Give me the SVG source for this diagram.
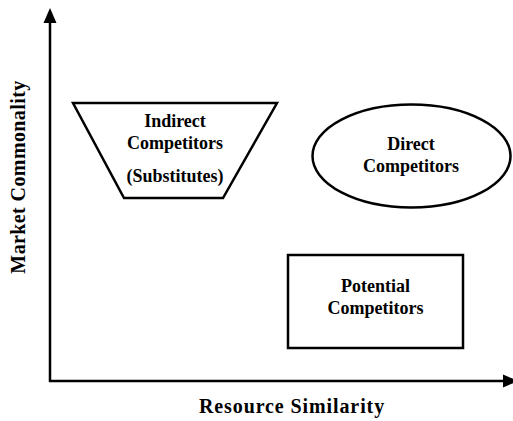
<svg xmlns="http://www.w3.org/2000/svg" width="513" height="421" viewBox="0 0 513 421">
  <style>
    .shape { fill: #ffffff; stroke: #000000; stroke-width: 2.5; }
    .axis { fill: none; stroke: #000000; stroke-width: 2.5; }
    .head { fill: #000000; stroke: none; }
    .label { font-family: "Liberation Serif", "Times New Roman", serif; font-weight: bold; font-size: 18px; fill: #000000; text-anchor: middle; }
    .axis-label { font-size: 20px; }
  </style>
  <rect x="0" y="0" width="513" height="421" fill="#ffffff"/>

  <!-- axes -->
  <g id="axes">
    <path class="axis" d="M50,382 L50,22"/>
    <path class="axis" d="M49,381 L504,381"/>
    <polygon class="head" points="50,8 43.5,23 56.5,23"/>
    <polygon class="head" points="518,381 503,374.5 503,387.5"/>
  </g>

  <g id="axis-labels">
    <text class="label axis-label" x="292" y="413" letter-spacing="0.9">Resource Similarity</text>
    <text class="label axis-label" transform="translate(25,177) rotate(-90)" x="0" y="0" letter-spacing="0.4">Market Commonality</text>
  </g>

  <!-- indirect competitors -->
  <g id="indirect">
    <polygon class="shape" points="73,103 277,103 223,198 124,198"/>
    <text class="label" x="175" y="127">Indirect</text>
    <text class="label" x="175" y="149">Competitors</text>
    <text class="label" x="175" y="182">(Substitutes)</text>
  </g>

  <!-- direct competitors -->
  <g id="direct">
    <ellipse class="shape" cx="411.5" cy="156" rx="99" ry="51.5"/>
    <text class="label" x="411" y="150">Direct</text>
    <text class="label" x="411" y="172">Competitors</text>
  </g>

  <!-- potential competitors -->
  <g id="potential">
    <rect class="shape" x="288" y="255" width="175" height="93"/>
    <text class="label" x="375.5" y="292">Potential</text>
    <text class="label" x="375.5" y="314">Competitors</text>
  </g>
</svg>
